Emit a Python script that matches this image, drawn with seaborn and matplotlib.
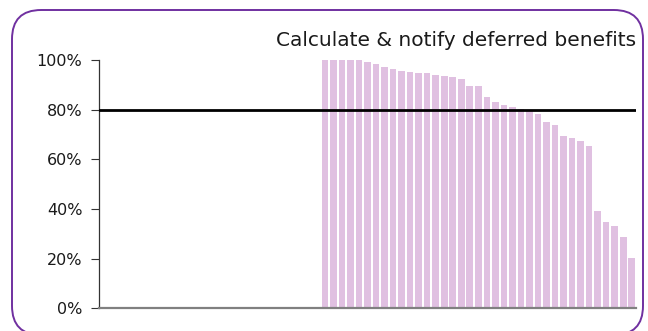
import numpy as np
import pandas as pd
import matplotlib
matplotlib.use("Agg")
import matplotlib.pyplot as plt
from matplotlib.patches import FancyBboxPatch
from matplotlib.ticker import PercentFormatter
import seaborn as sns

# Chart data
title = "Calculate & notify deferred benefits"
target = 0.80
n_no_return = 26
reported = [1.00, 1.00, 1.00, 1.00, 1.00, 0.993, 0.984, 0.970, 0.964, 0.957,
            0.953, 0.948, 0.948, 0.941, 0.937, 0.933, 0.925, 0.896, 0.894, 0.853,
            0.832, 0.818, 0.812, 0.801, 0.794, 0.782, 0.752, 0.739, 0.693, 0.684,
            0.673, 0.652, 0.390, 0.349, 0.333, 0.289, 0.203]
scores = [np.nan] * n_no_return + reported
schemes = [f"S{i + 1}" for i in range(len(scores))]
y_ticks = [0, 0.2, 0.4, 0.6, 0.8, 1.0]

df = pd.DataFrame({"scheme": schemes, "score": scores})

sns.set_theme(style="white")
plt.rcParams["font.family"] = ["DejaVu Sans"]

fig = plt.figure(figsize=(6.48, 3.31), dpi=100)
ax = fig.add_axes([99 / 648, 1 - 308.3 / 331, (636 - 99) / 648, (308.3 - 60) / 331])

sns.barplot(data=df, x="scheme", y="score", order=schemes, color="#e0c0e1",
            saturation=1, width=0.78, edgecolor="none", errorbar=None, ax=ax)

ax.axhline(target, color="black", lw=2.0, zorder=5)

ax.set_ylim(0, 1.0)
ax.set_xlim(-0.5, len(schemes) - 0.5)
ax.set_yticks(y_ticks)
ax.yaxis.set_major_formatter(PercentFormatter(1.0, decimals=0))
ax.set_xticks([])
ax.set_xlabel("")
ax.set_ylabel("")
ax.tick_params(axis="y", which="major", left=True, length=6, width=0.8,
               color="#333333", pad=6, labelsize=11.5, labelcolor="#1a1a1a")

for side in ("top", "right"):
    ax.spines[side].set_visible(False)
ax.spines["left"].set_color("#333333")
ax.spines["left"].set_linewidth(0.9)
ax.spines["bottom"].set_color("#808080")
ax.spines["bottom"].set_linewidth(1.6)

ax.set_title(title, loc="right", fontsize=14.5, color="#1a1a1a", pad=10)

# Rounded frame around the whole chart
frame = FancyBboxPatch((12 / 648, -4 / 331), (643 - 12) / 648, 325 / 331,
                       boxstyle="round,pad=0,rounding_size=0.045",
                       transform=fig.transFigure, fill=False,
                       edgecolor="#7030a0", linewidth=1.4, clip_on=False,
                       mutation_aspect=648 / 331)
fig.patches.append(frame)

fig.savefig("out.png", dpi=100, facecolor="white")
